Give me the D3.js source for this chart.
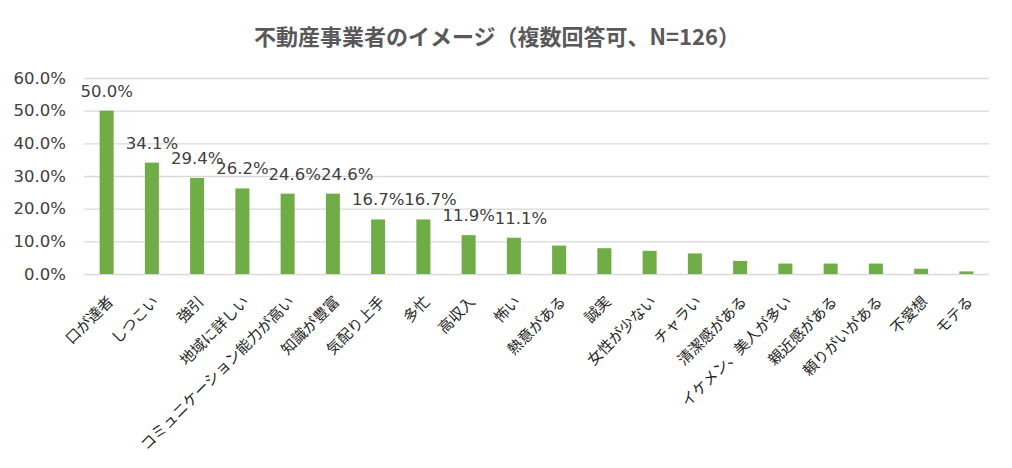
<!DOCTYPE html>
<html>
<head>
<meta charset="utf-8">
<script src="https://cdn.jsdelivr.net/npm/d3@7"></script>
<style>
  body { margin: 0; background: #fff; }
  svg { display: block; }
</style>
</head>
<body>
<div id="chart"></div>
<script>
// chart data (percent of respondents, N=126)
var categories = ["口が達者", "しつこい", "強引", "地域に詳しい", "コミュニケーション能力が高い",
  "知識が豊富", "気配り上手", "多忙", "高収入", "怖い", "熱意がある", "誠実", "女性が少ない",
  "チャラい", "清潔感がある", "イケメン、美人が多い", "親近感がある", "頼りがいがある", "不愛想", "モテる"];
var values = [50.0, 34.1, 29.4, 26.2, 24.6, 24.6, 16.7, 16.7, 11.9, 11.1,
  8.7, 7.9, 7.1, 6.3, 4.0, 3.2, 3.2, 3.2, 1.6, 0.8];
var labelled = 10; // only the first bars carry a value label
var yTicks = [0, 10, 20, 30, 40, 50, 60];
var title = "不動産事業者のイメージ（複数回答可、N=126）";

var width = 1012, height = 468;
var margin = {top: 78, right: 23, bottom: 194, left: 84};

var svg = d3.select("#chart").append("svg")
  .attr("width", width).attr("height", height);

var x = d3.scaleBand().domain(categories)
  .range([margin.left, width - margin.right])
  .paddingInner(0.69).paddingOuter(0.345);
var y = d3.scaleLinear().domain([0, 60])
  .range([height - margin.bottom, margin.top]);

svg.append("text")
  .attr("x", 497).attr("y", 35)
  .attr("text-anchor", "middle").attr("dominant-baseline", "central")
  .attr("font-family", "'Noto Sans CJK JP', sans-serif")
  .attr("font-weight", "bold").attr("font-size", 22)
  .attr("fill", "#595959")
  .text(title);

// gridlines
svg.append("g").selectAll("line").data(yTicks).enter().append("line")
  .attr("x1", margin.left).attr("x2", width - margin.right)
  .attr("y1", function(d) { return y(d) + 0.5; })
  .attr("y2", function(d) { return y(d) + 0.5; })
  .attr("stroke", "#d9d9d9").attr("stroke-width", 1.3);

// y axis labels
var yAxis = d3.axisLeft(y).tickValues(yTicks).tickSize(0).tickPadding(0)
  .tickFormat(function(d) { return d.toFixed(1) + "%"; });
var gy = svg.append("g").attr("transform", "translate(66,0)").call(yAxis);
gy.select(".domain").remove();
gy.selectAll("text")
  .attr("font-family", "'DejaVu Sans', sans-serif")
  .attr("font-size", 16.5).attr("fill", "#404040");

// bars
svg.append("g").selectAll("rect").data(values).enter().append("rect")
  .attr("x", function(d, i) { return x(categories[i]); })
  .attr("y", function(d) { return y(d); })
  .attr("width", x.bandwidth())
  .attr("height", function(d) { return y(0) - y(d); })
  .attr("fill", "#70ad47");

// value labels, pushed right when they would collide with the previous one
var vlabels = svg.append("g").selectAll("text").data(values.slice(0, labelled)).enter().append("text")
  .attr("y", function(d) { return y(d) - 14; })
  .attr("font-family", "'DejaVu Sans', sans-serif")
  .attr("font-size", 16.5).attr("fill", "#404040")
  .text(function(d) { return d.toFixed(1) + "%"; });

var prevRight = -Infinity, prevY = -Infinity;
vlabels.each(function(d, i) {
  var w = this.getComputedTextLength();
  var left = x(categories[i]) + x.bandwidth() / 2 - w / 2;
  var ly = y(d) - 14;
  if (Math.abs(ly - prevY) < 8 && left < prevRight) left = prevRight;
  d3.select(this).attr("x", left);
  prevRight = left + w;
  prevY = ly;
});

// rotated category labels
svg.append("g").selectAll("text").data(categories).enter().append("text")
  .attr("transform", function(d) {
    var cx = x(d) + x.bandwidth() / 2 + 3;
    return "translate(" + cx + ",298) rotate(-45)";
  })
  .attr("text-anchor", "end").attr("dominant-baseline", "central")
  .attr("font-family", "'Noto Sans CJK JP', sans-serif")
  .attr("font-size", 15).attr("fill", "#262626")
  .text(function(d) { return d; });
</script>
</body>
</html>
